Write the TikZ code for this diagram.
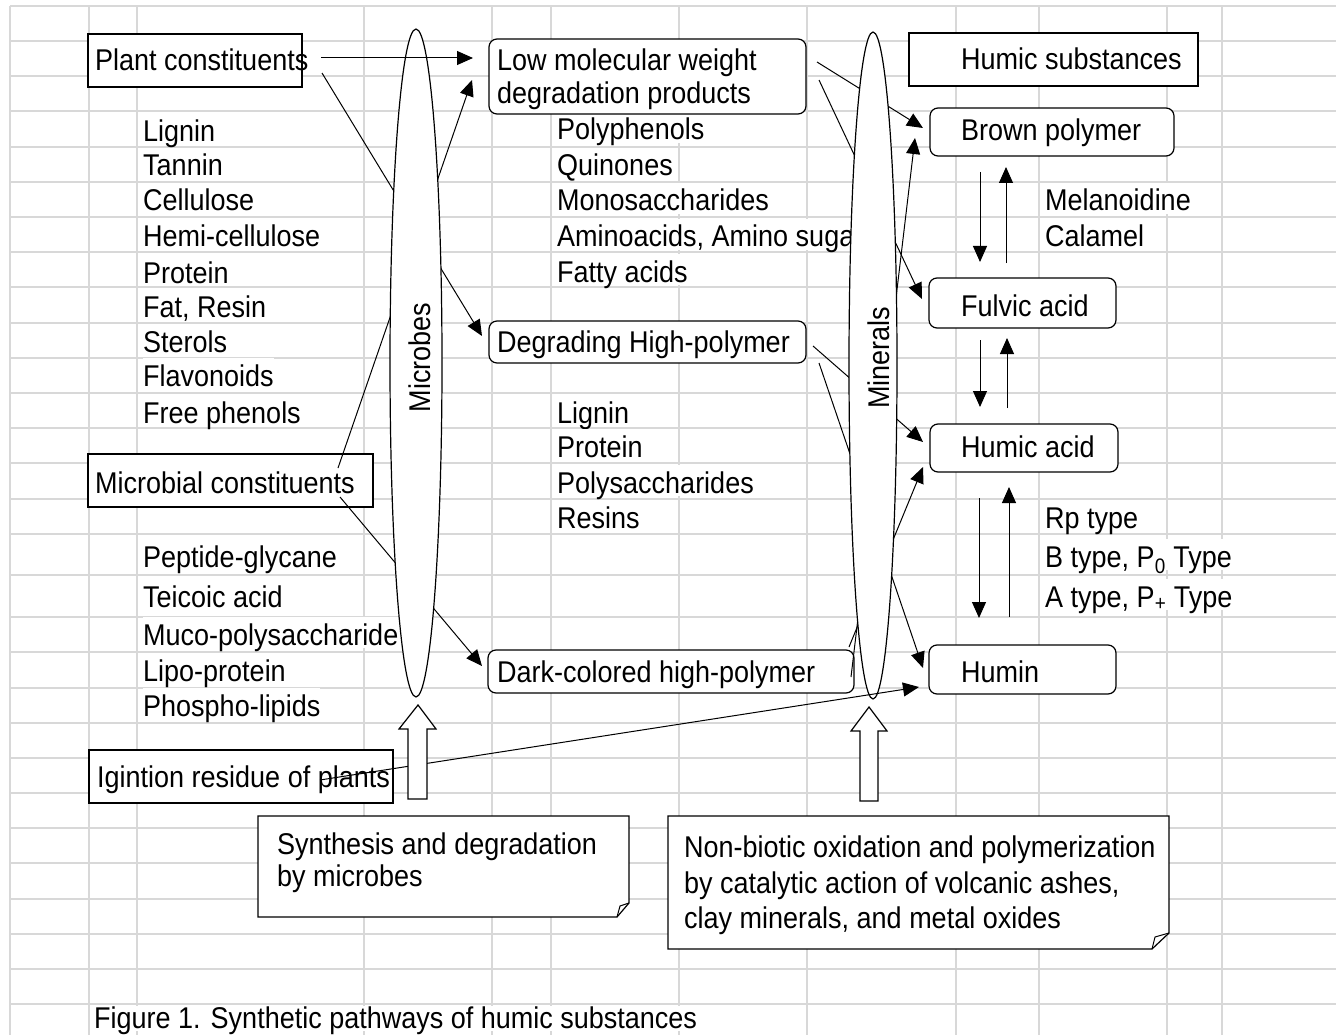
\documentclass[tikz,border=0pt]{standalone}
\usepackage{fontspec}
\setmainfont{Liberation Sans}[FakeStretch=0.9]
\usetikzlibrary{arrows.meta,shapes.geometric}
\definecolor{gridc}{RGB}{216,216,216}
\begin{document}
\begin{tikzpicture}[x=1pt,y=-1pt,
  lbl/.style={font=\fontsize{30pt}{34pt}\selectfont, inner sep=0pt, anchor=base west},
  ltxt/.style={lbl, fill=white, text height=28pt, text depth=3pt},
  sbox/.style={draw, fill=white, line width=1.2pt, inner sep=0pt, outer sep=0pt, anchor=north west},
  rbox/.style={sbox, rounded corners=8pt},
  conn/.style={line width=1pt, -{Triangle[length=16pt,width=14pt]}},
  gridl/.style={gridc, line width=1.6pt},
  oval/.style={draw, fill=white, ellipse, line width=1.2pt, inner sep=0pt, outer sep=0pt},
  blockarrow/.style={draw, fill=white, line width=1.2pt},
  note/.style={draw, fill=white, line width=1.2pt}
]
\useasboundingbox (0,0) rectangle (1336,1035);
\fill[white] (0,0) rectangle (1336,1035);

% spreadsheet grid
\foreach \y in {6,41,76,111,147,182,217,252,287,323,358,393,428,463,499,534,575,617,652,688,723,758,793,828,863,899,934,969,1004}
  \draw[gridl] (10,\y) -- (1336,\y);
\foreach \x in {10,89,137,364,492,551,679,807,956,1039,1167,1222}
  \draw[gridl] (\x,6) -- (\x,1035);

% plant constituents list
\node[ltxt] (l1) at (143,142) {Lignin};
\node[ltxt] (l2) at (143,176) {Tannin};
\node[ltxt] (l3) at (143,211) {Cellulose};
\node[ltxt] (l4) at (143,247) {Hemi-cellulose};
\node[ltxt] (l5) at (143,283) {Protein};
\node[ltxt] (l6) at (143,317) {Fat, Resin};
\node[ltxt] (l7) at (143,352) {Sterols};
\node[ltxt] (l8) at (143,386) {Flavonoids};
\node[ltxt] (l9) at (143,423) {Free phenols};
% microbial constituents list
\node[ltxt] (m1) at (143,567) {Peptide-glycane};
\node[ltxt] (m2) at (143,607) {Teicoic acid};
\node[ltxt] (m3) at (143,645) {Muco-polysaccharide};
\node[ltxt] (m4) at (143,681) {Lipo-protein};
\node[ltxt] (m5) at (143,716) {Phospho-lipids};
% low molecular weight list
\node[ltxt] (p1) at (557,140) {Polyphenols};
\node[ltxt] (p2) at (557,176) {Quinones};
\node[ltxt] (p3) at (557,211) {Monosaccharides};
\node[ltxt] (p4) at (557,247) {Aminoacids, Amino sugar};
\node[ltxt] (p5) at (557,282) {Fatty acids};
% high polymer list
\node[ltxt] (h1) at (557,423) {Lignin};
\node[ltxt] (h2) at (557,457) {Protein};
\node[ltxt] (h3) at (557,493) {Polysaccharides};
\node[ltxt] (h4) at (557,528) {Resins};
% right labels
\node[ltxt] (r1) at (1045,211) {Melanoidine};
\node[ltxt] (r2) at (1045,247) {Calamel};
\node[ltxt] (r3) at (1045,528) {Rp type};
\node[ltxt] (r4) at (1045,567) {B type, P\textsubscript{0} Type};
\node[ltxt] (r5) at (1045,607) {A type, P\textsubscript{+} Type};
% caption
\node[ltxt, text height=22pt] (cap) at (94,1028) {Figure 1. Synthetic pathways of humic substances};

% boxes
\node[sbox, minimum width=214pt, minimum height=53pt] (plant) at (88,34) {};
\node[lbl] (plantT) at (95,71) {Plant constituents};
\node[rbox, minimum width=317pt, minimum height=75pt] (low) at (489,39) {};
\node[lbl] (lowT1) at (497,70.5) {Low molecular weight};
\node[lbl] (lowT2) at (497,104) {degradation products};
\node[sbox, minimum width=289pt, minimum height=53pt] (humsub) at (909,33) {};
\node[lbl] (humsubT) at (961,70) {Humic substances};
\node[rbox, minimum width=244pt, minimum height=48pt] (brown) at (930,108) {};
\node[lbl] (brownT) at (961,141) {Brown polymer};
\node[rbox, minimum width=187pt, minimum height=50pt] (fulvic) at (929,278) {};
\node[lbl] (fulvicT) at (961,316) {Fulvic acid};
\node[rbox, minimum width=188pt, minimum height=48pt] (humic) at (930,424) {};
\node[lbl] (humicT) at (961,457) {Humic acid};
\node[rbox, minimum width=187pt, minimum height=49pt] (humin) at (929,645) {};
\node[lbl] (huminT) at (961,682) {Humin};
\node[rbox, minimum width=317pt, minimum height=42pt] (degr) at (489,321) {};
\node[lbl] (degrT) at (497,352) {Degrading High-polymer};
\node[rbox, minimum width=366pt, minimum height=43pt] (dark) at (488,650) {};
\node[lbl] (darkT) at (497,682) {Dark-colored high-polymer};
\node[sbox, minimum width=285pt, minimum height=53pt] (microbial) at (88,454) {};
\node[lbl] (microbialT) at (95,493) {Microbial constituents};
\node[sbox, minimum width=304pt, minimum height=53pt] (ignition) at (89,750) {};
\node[lbl] (ignitionT) at (97,787) {Igintion residue of plants};

% notes
\draw[note] (258,816) -- (629,816) -- (629,903) -- (617,917) -- (258,917) -- cycle;
\draw[line width=1pt] (617,917) -- (620,906) -- (629,903);
\node[lbl] (syn1) at (277,854) {Synthesis and degradation};
\node[lbl] (syn2) at (277,886) {by microbes};
\draw[note] (668,816) -- (1169,816) -- (1169,933) -- (1152,949) -- (668,949) -- cycle;
\draw[line width=1pt] (1152,949) -- (1155,937) -- (1169,933);
\node[lbl] (nb1) at (684,857) {Non-biotic oxidation and polymerization};
\node[lbl] (nb2) at (684,893) {by catalytic action of volcanic ashes,};
\node[lbl] (nb3) at (684,928) {clay minerals, and metal oxides};

% connectors passing behind the ellipses
\draw[conn] ([shift={(20,12.5)}]plant.east) -- ([shift={(-7,-6)}]degr.west);
\draw[conn] ([shift={(-35,-12.5)}]microbial.east) -- ([shift={(-17,3.5)}]low.west);
\draw[conn] ([shift={(-33,16.5)}]microbial.east) -- ([shift={(-6,-5.5)}]dark.west);
\draw[conn] ([shift={(11,-14.5)}]low.east) -- ([shift={(-7,-4)}]brown.west);
\draw[conn] ([shift={(13,3.5)}]low.east) -- ([shift={(-7,-4)}]fulvic.west);
\draw[conn] ([shift={(7,4)}]degr.east) -- ([shift={(-7,-6)}]humic.west);
\draw[conn] ([shift={(13,21)}]degr.east) -- ([shift={(-6,-1.5)}]humin.west);
\draw[conn] ([shift={(-5,-3)}]dark.north east) -- ([shift={(-7,19)}]humic.west);
\draw[conn] ([shift={(-3,5.5)}]dark.east) -- ([shift={(-15,6)}]brown.west);

% ellipses
\node[oval, minimum width=52pt, minimum height=668pt] (microbes) at (416,363) {};
\node[lbl, rotate=90, anchor=base] (microbesT) at (430,357.5) {Microbes};
\node[oval, minimum width=48pt, minimum height=667pt] (minerals) at (873,365.5) {};
\node[lbl, rotate=90, anchor=base] (mineralsT) at (889,357.5) {Minerals};

% connectors over the ellipses
\draw[conn] ([shift={(19,-2.5)}]plant.east) -- ([shift={(-16,-18.5)}]low.west);
\draw[conn] ([shift={(-73,3.5)}]ignition.east) -- ([shift={(-10,17.5)}]humin.west);

% vertical pairs
\draw[conn] ([shift={(-72,16)}]brown.south) -- ([shift={(-42.5,-16)}]fulvic.north);
\draw[conn] ([shift={(-16.5,-15)}]fulvic.north) -- ([shift={(-46,11)}]brown.south);
\draw[conn] ([shift={(-42.5,12)}]fulvic.south) -- ([shift={(-44,-17)}]humic.north);
\draw[conn] ([shift={(-17,-16)}]humic.north) -- ([shift={(-15.5,10)}]fulvic.south);
\draw[conn] ([shift={(-45,26)}]humic.south) -- ([shift={(-43.5,-27)}]humin.north);
\draw[conn] ([shift={(-13.5,-28)}]humin.north) -- ([shift={(-15,15)}]humic.south);

% hollow block arrows
\draw[blockarrow] (408,799) -- (408,729) -- (399,729) -- (418,705) -- (436,729) -- (427,729) -- (427,799) -- cycle;
\draw[blockarrow] (860,801) -- (860,731) -- (851,731) -- (869,707) -- (887,731) -- (878,731) -- (878,801) -- cycle;
\end{tikzpicture}
\end{document}
